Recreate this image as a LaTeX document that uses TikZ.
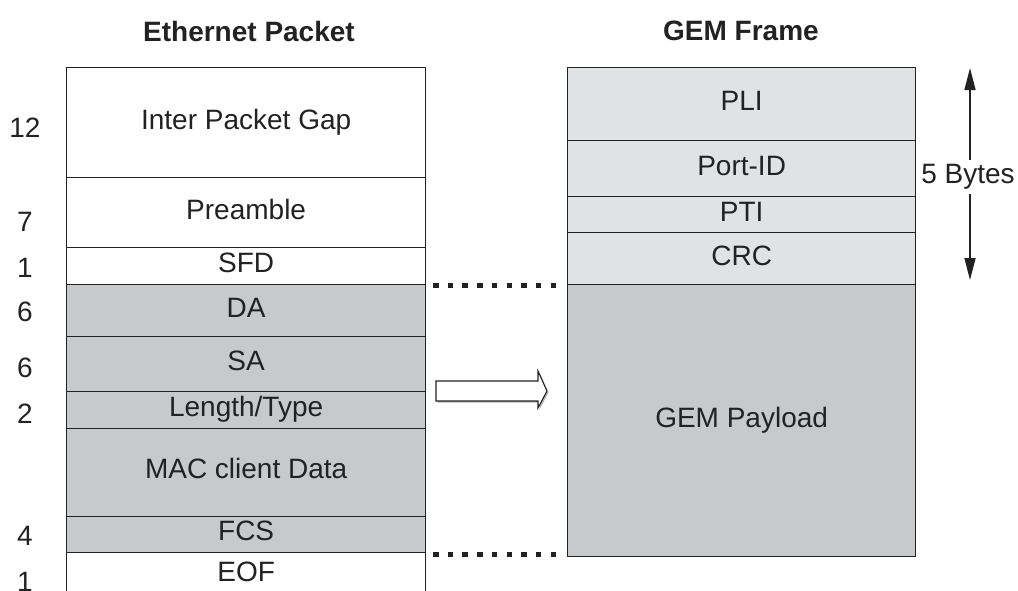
\documentclass[tikz,border=0pt]{standalone}
\usepackage{fontspec}
\setmainfont{Liberation Sans}
\usetikzlibrary{arrows.meta,calc}
\definecolor{ink}{HTML}{222222}
\definecolor{hdrgray}{HTML}{E1E2E4}
\definecolor{paygray}{HTML}{C8C9CB}
\begin{document}
\begin{tikzpicture}[x=1pt,y=-1pt,
  font=\fontsize{28}{33}\selectfont,
  cell/.style={draw=ink, line width=1.3pt, text=ink, inner sep=0pt,
    anchor=north west, text height=20pt, text depth=6.5pt},
  lcell/.style={cell, minimum width=359pt},
  rcell/.style={cell, minimum width=348pt},
  count/.style={text=ink, inner sep=0pt, text height=20pt, text depth=0pt},
  title/.style={text=ink, font=\fontsize{28}{33}\selectfont\bfseries},
  dots/.style={draw=ink, line width=5pt, dash pattern=on 5.5pt off 9.2pt},
  span/.style={draw=ink, line width=1.5pt, -{Triangle[length=22pt,width=11pt]}}]
\useasboundingbox (0,0) rectangle (1018,590);
\clip (0,0) rectangle (1018,590);

% titles
\node[title] (ethtitle) at (249,31) {Ethernet Packet};
\node[title] (gemtitle) at (741,31) {GEM Frame};

% Ethernet packet fields
\node[lcell, fill=white,   minimum height=110pt] (ipg) at (66,67)    {Inter Packet Gap};
\node[lcell, fill=white,   minimum height=70pt]  (pre) at (66,177)   {Preamble};
\node[lcell, fill=white,   minimum height=36.5pt](sfd) at (66,247)   {SFD};
\node[lcell, fill=paygray, minimum height=52.5pt](da)  at (66,283.5) {DA};
\node[lcell, fill=paygray, minimum height=55pt]  (sa)  at (66,336)   {SA};
\node[lcell, fill=paygray, minimum height=36.5pt](len) at (66,391)   {Length/Type};
\node[lcell, fill=paygray, minimum height=88pt]  (mac) at (66,427.5) {MAC client Data};
\node[lcell, fill=paygray, minimum height=36pt]  (fcs) at (66,515.5) {FCS};
\node[lcell, fill=white,   minimum height=46pt]  (eof) at (66,551.5) {EOF};

% byte counts
\node[count] (n12) at (25,127) {12};
\node[count] (n7)  at (25,221) {7};
\node[count] (n1a) at (25,267) {1};
\node[count] (n6a) at (25,311) {6};
\node[count] (n6b) at (25,367) {6};
\node[count] (n2)  at (25,413) {2};
\node[count] (n4)  at (25,535) {4};
\node[count] (n1b) at (25,581) {1};

% GEM frame fields
\node[rcell, fill=hdrgray, minimum height=72.5pt] (pli)  at (567,67)    {PLI};
\node[rcell, fill=hdrgray, minimum height=56.5pt] (port) at (567,139.5) {Port-ID};
\node[rcell, fill=hdrgray, minimum height=35.5pt] (pti)  at (567,196)   {PTI};
\node[rcell, fill=hdrgray, minimum height=52.5pt] (crc)  at (567,231.5) {CRC};
\node[rcell, fill=paygray, minimum height=272pt]  (pay)  at (567,284)   {GEM Payload};

% mapping marks between the two columns
\coordinate (d1a) at (433,285);
\coordinate (d1b) at (556,285);
\coordinate (d2a) at (433,554);
\coordinate (d2b) at (556,554);
\draw[dots] (d1a) -- (d1b);
\draw[dots] (d2a) -- (d2b);

% hollow block arrow
\fill[gray!60] (437.5,382.5) -- (539.5,382.5) -- (539.5,372.5) -- (548.5,392.5)
  -- (539.5,409.5) -- (539.5,402.5) -- (437.5,402.5) -- cycle;
\draw[fill=white, draw=ink, line width=1.1pt] (436,381) -- (538,381) -- (538,371)
  -- (547,391) -- (538,408) -- (538,401) -- (436,401) -- cycle;

% header size marker
\node[text=ink, inner sep=2pt, fill=white] (bytes) at (968,177) {5 Bytes};
\coordinate (btop) at (970,68);
\coordinate (bbot) at (970,280);
\draw[span] (bytes.north -| btop) ++(0,-2) -- (btop);
\draw[span] (bytes.south -| bbot) ++(0,2) -- (bbot);
\end{tikzpicture}
\end{document}
